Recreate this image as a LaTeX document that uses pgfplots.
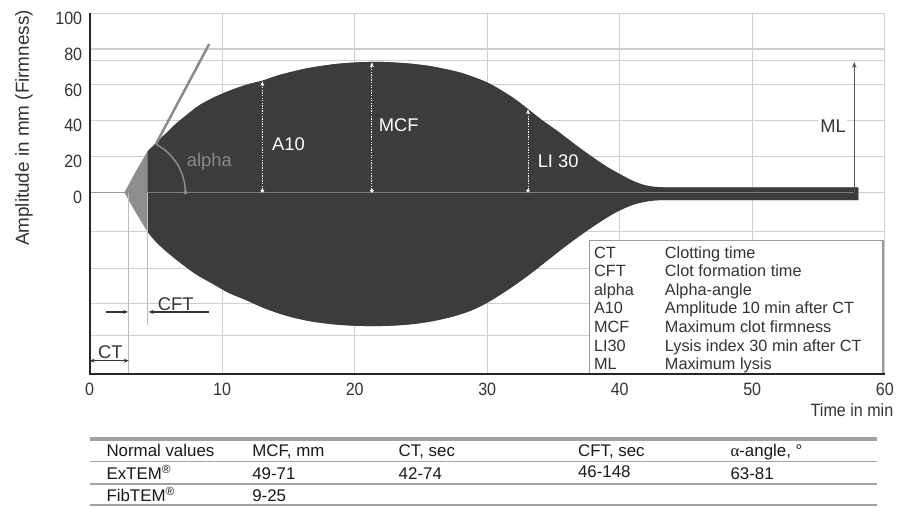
\documentclass[border=0pt]{standalone}
\usepackage{pgfplots}
\pgfplotsset{compat=1.18}
\usepgfplotslibrary{fillbetween}
\usetikzlibrary{arrows.meta}
\usepackage{fontspec}
\setmainfont{Liberation Sans}
\newfontfamily\tickfont{Liberation Sans}[FakeStretch=0.9]
\newfontfamily\grk{Liberation Serif}
\definecolor{darkfill}{HTML}{3C3C3C}
\definecolor{lightfill}{HTML}{8E8E8E}
\definecolor{gridc}{HTML}{CFCFCF}
\definecolor{ctline}{HTML}{BBBBBB}
\definecolor{txt}{HTML}{333333}
\definecolor{rulec}{HTML}{A3A3A3}
\definecolor{alphac}{HTML}{8A8A8A}
\definecolor{boxc}{HTML}{9A9A9A}
\newcommand{\lab}{\fontsize{18.5}{20}\selectfont}
\newcommand{\leg}{\fontsize{16.4}{18}\selectfont}
\newcommand{\tab}{\fontsize{17}{19}\selectfont}
\tikzset{legtext/.style={anchor=base west, inner sep=0, text=txt, font=\leg}}
\begin{document}
\begin{tikzpicture}
\path (0,0) rectangle (897bp,-508bp);
\begin{axis}[
  at={(90bp,-375bp)}, anchor=south west,
  scale only axis, width=798bp, height=361.8bp,
  xmin=0, xmax=60, ymin=-101, ymax=100,
  clip=false,
  axis line style={gridc, line width=1.2bp},
  xtick={0,10,...,60},
  ytick={-79.7,-62.1,-42.2,-21.9,0,20,40,60,80,100},
  yticklabels={,,,,0,20,40,60,80,100},
  major tick length=0pt,
  grid=major, grid style={gridc, line width=1.2bp},
  /pgf/number format/assume math mode=true,
  ticklabel style={font=\tickfont\fontsize{18}{18}\selectfont, text=txt},
  xticklabel style={yshift=-5.5bp},
  yticklabel style={xshift=-4bp, yshift=-5bp},
]
% MCF level reference line
\draw[gridc, line width=1.2bp] (axis cs:0,73.6) -- (axis cs:60,73.6);
% CT and CFT vertical lines
\draw[ctline, line width=1.2bp] (axis cs:2.95,-101) -- (axis cs:2.95,0);
\draw[ctline, line width=1.2bp] (axis cs:4.38,-74) -- (axis cs:4.38,0);
% legend box
\draw[fill=white, draw=boxc, line width=1.5bp] (axis cs:37.72,-26.8) rectangle (axis cs:59.85,-101);

\addplot[draw=none, name path=up, smooth] coordinates {
(2.63,0) (3.0,5.2) (3.5,12) (4.0,18.3) (4.38,23) (4.8,26) (5.2,29) (5.8,33.3)
(6.5,38.3) (7.5,44.3) (8.3,48.8) (9.5,53.5) (10.8,57.5) (12.0,60.5) (13.0,62.3)
(14.3,65.5) (15.8,68.3) (16.8,69.8) (18.5,71.6) (20.0,72.5) (21.3,72.8)
(22.5,72.7) (24.0,72.0) (25.6,70.6) (27.0,68.6) (28.1,66.6) (29.3,63.5)
(30.3,60.3) (31.5,55.0) (32.3,51.0) (33.1,46.4) (34.2,40.0) (35.3,34.3)
(36.5,27.5) (37.8,20.5) (39.0,14.5) (40.0,10.3) (40.8,7.2) (41.5,5.0)
(42.2,3.6) (43.0,3.0) (45.0,2.8) (58.0,2.8)};
\addplot[draw=none, name path=lo, smooth] coordinates {
(2.63,0) (3.0,-5) (3.5,-11.5) (4.0,-17.5) (4.38,-22) (5.0,-27.5)
(5.8,-33) (6.8,-39) (8.0,-45.5) (9.3,-51) (10.5,-56) (11.8,-60) (13.0,-64)
(14.3,-67.5) (15.5,-70) (16.8,-72) (18.5,-73.6) (20.0,-74.3) (21.5,-74.5)
(23.0,-74.2) (24.5,-73.3) (26.0,-71.6) (27.5,-69) (28.8,-65.8) (30.0,-61.5)
(31.2,-56) (32.3,-50.5) (33.5,-44) (34.7,-37) (36.0,-29.5) (37.3,-22.5)
(38.5,-16.5) (39.6,-11.5) (40.6,-8) (41.4,-6) (42.2,-4.8) (43.0,-4.3)
(45.0,-4.2) (58.0,-4.2)};
\addplot[lightfill] fill between[of=up and lo];
\addplot[darkfill] fill between[of=up and lo, soft clip={domain=4.38:58}];

% zero line
\draw[alphac, opacity=0.8, line width=1.8bp] (axis cs:0,0) -- (axis cs:57.7,0);

% alpha tangent line and arc
\draw[alphac, line width=2.5bp] (axis cs:5.0,27.0) -- (axis cs:9.02,82.8);
\draw[alphac, line width=1.5bp] (axis cs:3.12,0) ++(62.5:54.5bp) arc[start angle=62.5, end angle=0, radius=54.5bp];
\fill[alphac] (axis cs:3.12,0) ++(54.5bp,0bp) circle[radius=2bp];
\node[anchor=base west, inner sep=0, text=alphac, font=\lab] at (axis cs:7.32,14.5) {alpha};

% white dotted measurement arrows
\draw[white, line width=1bp, dash pattern=on 1.3bp off 1.3bp, {Circle[length=3.5bp]}-{Stealth[length=5bp,width=4bp]}] (axis cs:13.03,0) -- (axis cs:13.03,62.1);
\draw[white, line width=1bp, dash pattern=on 1.3bp off 1.3bp, {Circle[length=3.5bp]}-{Stealth[length=5bp,width=4bp]}] (axis cs:21.3,0) -- (axis cs:21.3,72.6);
\draw[white, line width=1bp, dash pattern=on 1.3bp off 1.3bp, {Circle[length=3.5bp]}-{Stealth[length=5bp,width=4bp]}] (axis cs:33.08,0) -- (axis cs:33.08,46.4);
\node[anchor=base west, inner sep=0, text=white, font=\lab] at (axis cs:13.76,23.2) {A10};
\node[anchor=base west, inner sep=0, text=white, font=\lab] at (axis cs:21.8,33.8) {MCF};
\node[anchor=base west, inner sep=0, text=white, font=\lab] at (axis cs:33.8,14) {LI 30};

% ML
\draw[txt!85!white, line width=1.2bp, -{Stealth[length=6bp,width=4.5bp]}] (axis cs:57.7,0) -- (axis cs:57.7,72.8);
\node[fill=white, inner sep=1.5bp, text=txt, font=\lab] at (axis cs:56.1,37.1) {ML};

% CT and CFT arrows
\draw[txt, line width=1.2bp, {Stealth[length=5bp,width=4bp]}-{Stealth[length=5bp,width=4bp]}] (axis cs:0,-93.8) -- (axis cs:2.95,-93.8);
\node[anchor=base west, inner sep=0, text=txt, font=\lab] at (axis cs:0.62,-92.5) {CT};
\draw[txt, line width=1.2bp, -{Stealth[length=5bp,width=4bp]}] (axis cs:1.25,-66.6) -- (axis cs:2.9,-66.6);
\draw[txt, line width=1.2bp, -{Stealth[length=5bp,width=4bp]}] (axis cs:9.02,-66.6) -- (axis cs:4.45,-66.6);
\node[anchor=base west, inner sep=0, text=txt, font=\lab] at (axis cs:5.14,-65.7) {CFT};

% legend text
\node[legtext] at (axis cs:38.05,-36.6) {CT};
\node[legtext] at (axis cs:43.4,-36.6) {Clotting time};
\node[legtext] at (axis cs:38.05,-46.9) {CFT};
\node[legtext] at (axis cs:43.4,-46.9) {Clot formation time};
\node[legtext] at (axis cs:38.05,-57.3) {alpha};
\node[legtext] at (axis cs:43.4,-57.3) {Alpha-angle};
\node[legtext] at (axis cs:38.05,-67.7) {A10};
\node[legtext] at (axis cs:43.4,-67.7) {Amplitude 10 min after CT};
\node[legtext] at (axis cs:38.05,-78.1) {MCF};
\node[legtext] at (axis cs:43.4,-78.1) {Maximum clot firmness};
\node[legtext] at (axis cs:38.05,-88.5) {LI30};
\node[legtext] at (axis cs:43.4,-88.5) {Lysis index 30 min after CT};
\node[legtext] at (axis cs:38.05,-98.9) {ML};
\node[legtext] at (axis cs:43.4,-98.9) {Maximum lysis};

% left and bottom axis lines
\draw[black!85, line width=2bp] (axis cs:0,100) -- (axis cs:0,-101) -- (axis cs:60,-101);
\end{axis}

% axis titles
\node[rotate=90, text=txt, font=\fontsize{19}{20}\selectfont] at (24bp,-128.5bp) {Amplitude in mm (Firmness)};
\node[anchor=base east, inner sep=0, text=txt, font=\tickfont\fontsize{18}{18}\selectfont] at (896.7bp,-418.3bp) {Time in min};

% table
\draw[rulec, line width=4bp] (90bp,-441bp) -- (880bp,-441bp);
\draw[rulec, line width=1.5bp] (90bp,-463.3bp) -- (880bp,-463.3bp);
\draw[rulec, line width=1.5bp] (90bp,-485.7bp) -- (880bp,-485.7bp);
\draw[rulec, line width=1.5bp] (90bp,-507bp) -- (880bp,-507bp);
\begin{scope}[every node/.style={anchor=base west, inner sep=0, text=black!90, font=\tab}]
\node at (106.7bp,-458.3bp) {Normal values};
\node at (253bp,-458.3bp) {MCF, mm};
\node at (400bp,-458.3bp) {CT, sec};
\node at (580bp,-458.3bp) {CFT, sec};
\node at (733bp,-458.3bp) {{\grk α}-angle, °};
\node at (106.7bp,-481.7bp) {ExTEM\textsuperscript{®}};
\node at (253bp,-481.7bp) {49-71};
\node at (400bp,-481.7bp) {42-74};
\node at (580bp,-479.5bp) {46-148};
\node at (733bp,-481.7bp) {63-81};
\node at (106.7bp,-503.3bp) {FibTEM\textsuperscript{®}};
\node at (253bp,-503.3bp) {9-25};
\end{scope}
\end{tikzpicture}
\end{document}
